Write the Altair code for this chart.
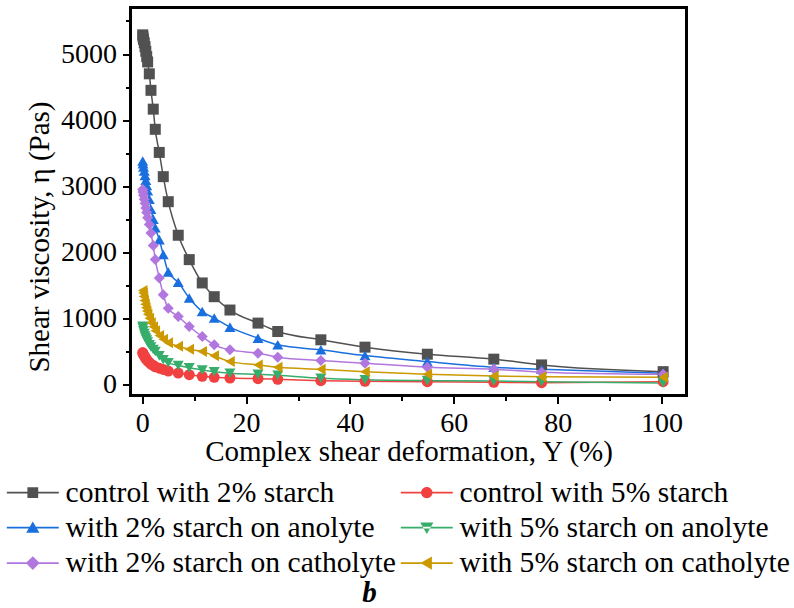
import altair as alt
import pandas as pd

# ---------------- data ----------------
strain = [0.1, 0.16, 0.25, 0.4, 0.55, 0.7, 0.87, 1.05, 1.37, 1.69, 2.13, 2.52, 3.29,
          4.06, 5.02, 6.94, 9.06, 11.56, 13.87, 16.9, 22.3, 26.1, 34.4, 42.9, 54.9,
          67.7, 76.9, 100.3]

series_names = [
    "control with 2% starch",
    "control with 5% starch",
    "with 2% starch on anolyte",
    "with 5% starch on anolyte",
    "with 2% starch on catholyte",
    "with 5% starch on catholyte",
]

control_2 = [5290, 5260, 5220, 5170, 5110, 5040, 4960, 4880, 4700, 4450, 4165, 3860, 3510,
             3143, 2764, 2256, 1887, 1534, 1326, 1124, 926, 799, 673, 562, 455,
             380, 293, 191]
control_5 = [480, 465, 450, 430, 410, 390, 372, 355, 330, 305, 285, 265, 243,
             225, 200, 170, 145, 120, 106, 95, 85, 75, 55, 45, 40,
             30, 24, 40]
anolyte_2 = [3380, 3340, 3290, 3230, 3160, 3090, 3010, 2930, 2800, 2650, 2500, 2370, 2190,
             1963, 1700, 1543, 1306, 1102, 1002, 865, 698, 597, 521, 434, 343,
             258, 228, 167]
anolyte_5 = [880, 850, 810, 770, 730, 700, 670, 640, 600, 565, 525, 495, 430,
             370, 325, 285, 250, 217, 191, 167, 150, 135, 90, 68, 55,
             50, 40, 20]
catholyte_2 = [2950, 2910, 2860, 2800, 2740, 2670, 2600, 2520, 2420, 2290, 2100, 1890, 1610,
               1356, 1150, 1026, 875, 723, 597, 521, 471, 410, 359, 319, 258,
               228, 182, 150]
catholyte_5 = [1420, 1380, 1330, 1270, 1210, 1160, 1110, 1060, 1000, 930, 870, 810, 740,
               680, 630, 575, 530, 495, 430, 343, 293, 258, 228, 191, 152,
               126, 115, 105]

all_values = [control_2, control_5, anolyte_2, anolyte_5, catholyte_2, catholyte_5]

colors = ["#515151", "#F14040", "#1A6FDF", "#37AD6B", "#B177DE", "#CC9900"]
plot_shapes = ["square", "circle", "triangle-up", "triangle-down", "diamond", "triangle-left"]
marker_sizes = [121, 121, 169, 169, 185, 169]

# legend symbols: a line through a marker
line_path = "M-4.33,-0.14H4.33V0.14H-4.33Z"
legend_paths = [
    line_path + "M-0.9,-0.9H0.9V0.9H-0.9Z",
    line_path + "M0.95,0A0.95,0.95 0 1,1 -0.95,0A0.95,0.95 0 1,1 0.95,0Z",
    line_path + "M0,-1.05L1.1,0.85L-1.1,0.85Z",
    line_path + "M0,1.05L1.1,-0.85L-1.1,-0.85Z",
    line_path + "M0,-1.15L1.15,0L0,1.15L-1.15,0Z",
    line_path + "M-1.05,0L0.85,-1.1L0.85,1.1Z",
]

# legend fills column by column: reorder so rows read (2%, 5%) pairs
legend_order = [0, 2, 4, 1, 3, 5]
legend_domain = [series_names[i] for i in legend_order]
legend_colors = [colors[i] for i in legend_order]
legend_shapes = [legend_paths[i] for i in legend_order]

rows = []
for i, (name, vals) in enumerate(zip(series_names, all_values)):
    for xv, yv in zip(strain, vals):
        rows.append({"strain": xv, "eta": yv, "series": name, "idx": i})
df = pd.DataFrame(rows)

FONT = "Liberation Serif"

x_enc = alt.X(
    "strain:Q",
    scale=alt.Scale(domain=[-2.25, 104.8], nice=False, zero=False),
    axis=alt.Axis(
        title="Complex shear deformation, Y (%)",
        values=list(range(0, 101, 10)),
        labelExpr="datum.value % 20 === 0 ? datum.label : ''",
        format="d",
        tickSize={"condition": {"test": "datum.value % 20 === 0", "value": 8}, "value": 5},
        labelPadding=6,
        titlePadding=0,
        labelFlush=False,
    ),
)
y_enc = alt.Y(
    "eta:Q",
    scale=alt.Scale(domain=[-170, 5704], nice=False, zero=False),
    axis=alt.Axis(
        title="Shear viscosity, η (Pas)",
        values=list(range(0, 5501, 500)),
        labelExpr="datum.value % 1000 === 0 ? datum.label : ''",
        format="d",
        tickSize={"condition": {"test": "datum.value % 1000 === 0", "value": 8}, "value": 5},
        labelPadding=6,
        titlePadding=6,
        titleY=229,
    ),
)

color_plot = alt.Color("series:N", scale=alt.Scale(domain=series_names, range=colors), legend=None)

lines = alt.Chart(df).mark_line(strokeWidth=1.5, interpolate="monotone").encode(
    x=x_enc, y=y_enc, color=color_plot, detail="series:N"
)

points = alt.Chart(df).mark_point(filled=True, opacity=1, strokeWidth=0).encode(
    x=x_enc,
    y=y_enc,
    color=color_plot,
    shape=alt.Shape("series:N", scale=alt.Scale(domain=series_names, range=plot_shapes), legend=None),
    size=alt.Size("series:N", scale=alt.Scale(domain=series_names, range=marker_sizes), legend=None),
    order=alt.Order("idx:Q"),
)

legend_spec = alt.Legend(
    title=None,
    orient="none",
    legendX=-124.5,
    legendY=470,
    columns=2,
    symbolSize=144,
    symbolStrokeWidth=0,
    symbolOpacity=1,
    symbolOffset=12,
    labelOffset=18,
    labelFont=FONT,
    labelFontSize=29.6,
    labelColor="black",
    labelLimit=0,
    rowPadding=4.4,
    columnPadding=4,
    padding=0,
)

legend_layer = alt.Chart(df).transform_filter("false").mark_point(filled=True, opacity=1, size=144).encode(
    x=x_enc,
    y=y_enc,
    color=alt.Color("series:N", scale=alt.Scale(domain=legend_domain, range=legend_colors), legend=legend_spec),
    shape=alt.Shape("series:N", scale=alt.Scale(domain=legend_domain, range=legend_shapes), legend=legend_spec),
)

chart = (
    alt.layer(lines, points, legend_layer)
    .resolve_scale(color="independent", shape="independent")
    .properties(
        width=556,
        height=388,
        padding={"left": 130.5, "top": 7.5, "right": 107, "bottom": 212.5},
        autosize=alt.AutoSizeParams(type="none"),
        title=alt.TitleParams(
            "b", orient="bottom", anchor="middle", frame="group", fontStyle="italic", fontWeight="bold",
            fontSize=29, font=FONT, color="black", offset=0, dx=-39,
        ),
    )
    .configure_view(stroke="black", strokeWidth=3)
    .configure_axis(
        labelFont=FONT, labelFontSize=28, labelColor="black",
        titleFont=FONT, titleFontSize=29, titleFontWeight="normal", titleColor="black",
        tickColor="black", tickWidth=2, domain=False, grid=False,
    )
    .configure_legend(labelFont=FONT, labelFontSize=29.6, labelColor="black", labelLimit=0)
    .configure_text(font=FONT)
)

chart.save("out.html", embed_options={"renderer": "svg", "actions": False})
